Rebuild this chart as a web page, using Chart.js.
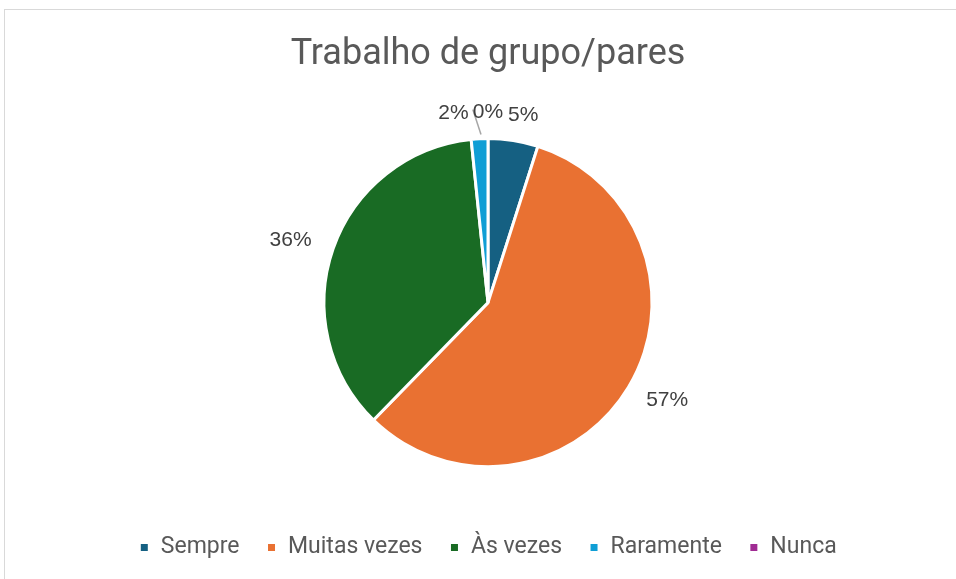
<!DOCTYPE html>
<html>
<head>
<meta charset="utf-8">
<script src="https://cdn.jsdelivr.net/npm/chart.js@4/dist/chart.umd.min.js"></script>
<style>
  html, body { margin: 0; padding: 0; background: #fff; overflow: hidden; }
  #frame {
    position: absolute; left: 4px; top: 9px; width: 2000px; height: 2000px;
    border: 1px solid #d9d9d9; box-sizing: border-box;
  }
  #chart { position: absolute; left: 0; top: 0; }
</style>
</head>
<body>
<div id="frame"></div>
<canvas id="chart" width="956" height="579"></canvas>
<script>
const title = 'Trabalho de grupo/pares';
const categories = ['Sempre', 'Muitas vezes', 'Às vezes', 'Raramente', 'Nunca'];
const values = [3, 35, 22, 1, 0];
const colors = ['#156082', '#e97132', '#196b24', '#0f9ed5', '#a02b93'];

const FONT = 'Roboto, "Noto Sans", sans-serif';

// percentage labels outside the slices, small ones pushed sideways
const pctLabels = {
  id: 'pctLabels',
  afterDatasetsDraw(chart) {
    const { ctx } = chart;
    const meta = chart.getDatasetMeta(0);
    const total = values.reduce((a, b) => a + b, 0);
    ctx.save();
    ctx.font = '21px "Liberation Sans", Arial, sans-serif';
    ctx.textAlign = 'center';
    ctx.textBaseline = 'middle';
    const placed = [];
    const h = 18;
    for (let i = meta.data.length - 1; i >= 0; i--) {
      const arc = meta.data[i];
      const { x, y, startAngle, endAngle, outerRadius } =
        arc.getProps(['x', 'y', 'startAngle', 'endAngle', 'outerRadius'], true);
      const text = Math.round(values[i] / total * 100) + '%';
      const w = ctx.measureText(text).width;
      const mid = (startAngle + endAngle) / 2;
      const ux = Math.cos(mid), uy = Math.sin(mid);
      let lx = x + ux * (outerRadius + 24) + (w / 2) * ux;
      let ly = y + uy * (outerRadius + 26);
      const step = ux >= 0 ? 1 : -1;
      while (placed.some(b => Math.abs(b.x - lx) < (b.w + w) / 2 + 4 && Math.abs(b.y - ly) < h)) {
        lx += step;
      }
      placed.push({ x: lx, y: ly, w });
      if (values[i] === 0) {
        ctx.strokeStyle = '#a6a6a6';
        ctx.lineWidth = 1.5;
        ctx.beginPath();
        ctx.moveTo(lx - w / 2, ly - 3);
        ctx.lineTo(x + ux * (outerRadius + 2) - 7, y + uy * (outerRadius + 2) - 2);
        ctx.stroke();
      }
      ctx.fillStyle = '#404040';
      ctx.fillText(text, lx, ly);
    }
    ctx.restore();
  },
};

new Chart(document.getElementById('chart'), {
  type: 'pie',
  data: {
    labels: categories,
    datasets: [{
      data: values,
      backgroundColor: colors,
      borderColor: '#fff',
      borderWidth: 3,
      radius: 164,
    }],
  },
  options: {
    responsive: false,
    animation: false,
    layout: { padding: { left: 20, right: 0, top: 0, bottom: 10 } },
    plugins: {
      title: {
        display: true,
        text: title,
        color: '#595959',
        font: { family: FONT, size: 36, weight: 'normal' },
        padding: { top: 33, bottom: 20 },
      },
      legend: {
        position: 'bottom',
        labels: {
          color: '#595959',
          font: { family: FONT, size: 23 },
          boxWidth: 10,
          boxHeight: 10,
          padding: 27,
        },
      },
      tooltip: { enabled: false },
    },
  },
  plugins: [pctLabels],
});
</script>
</body>
</html>
